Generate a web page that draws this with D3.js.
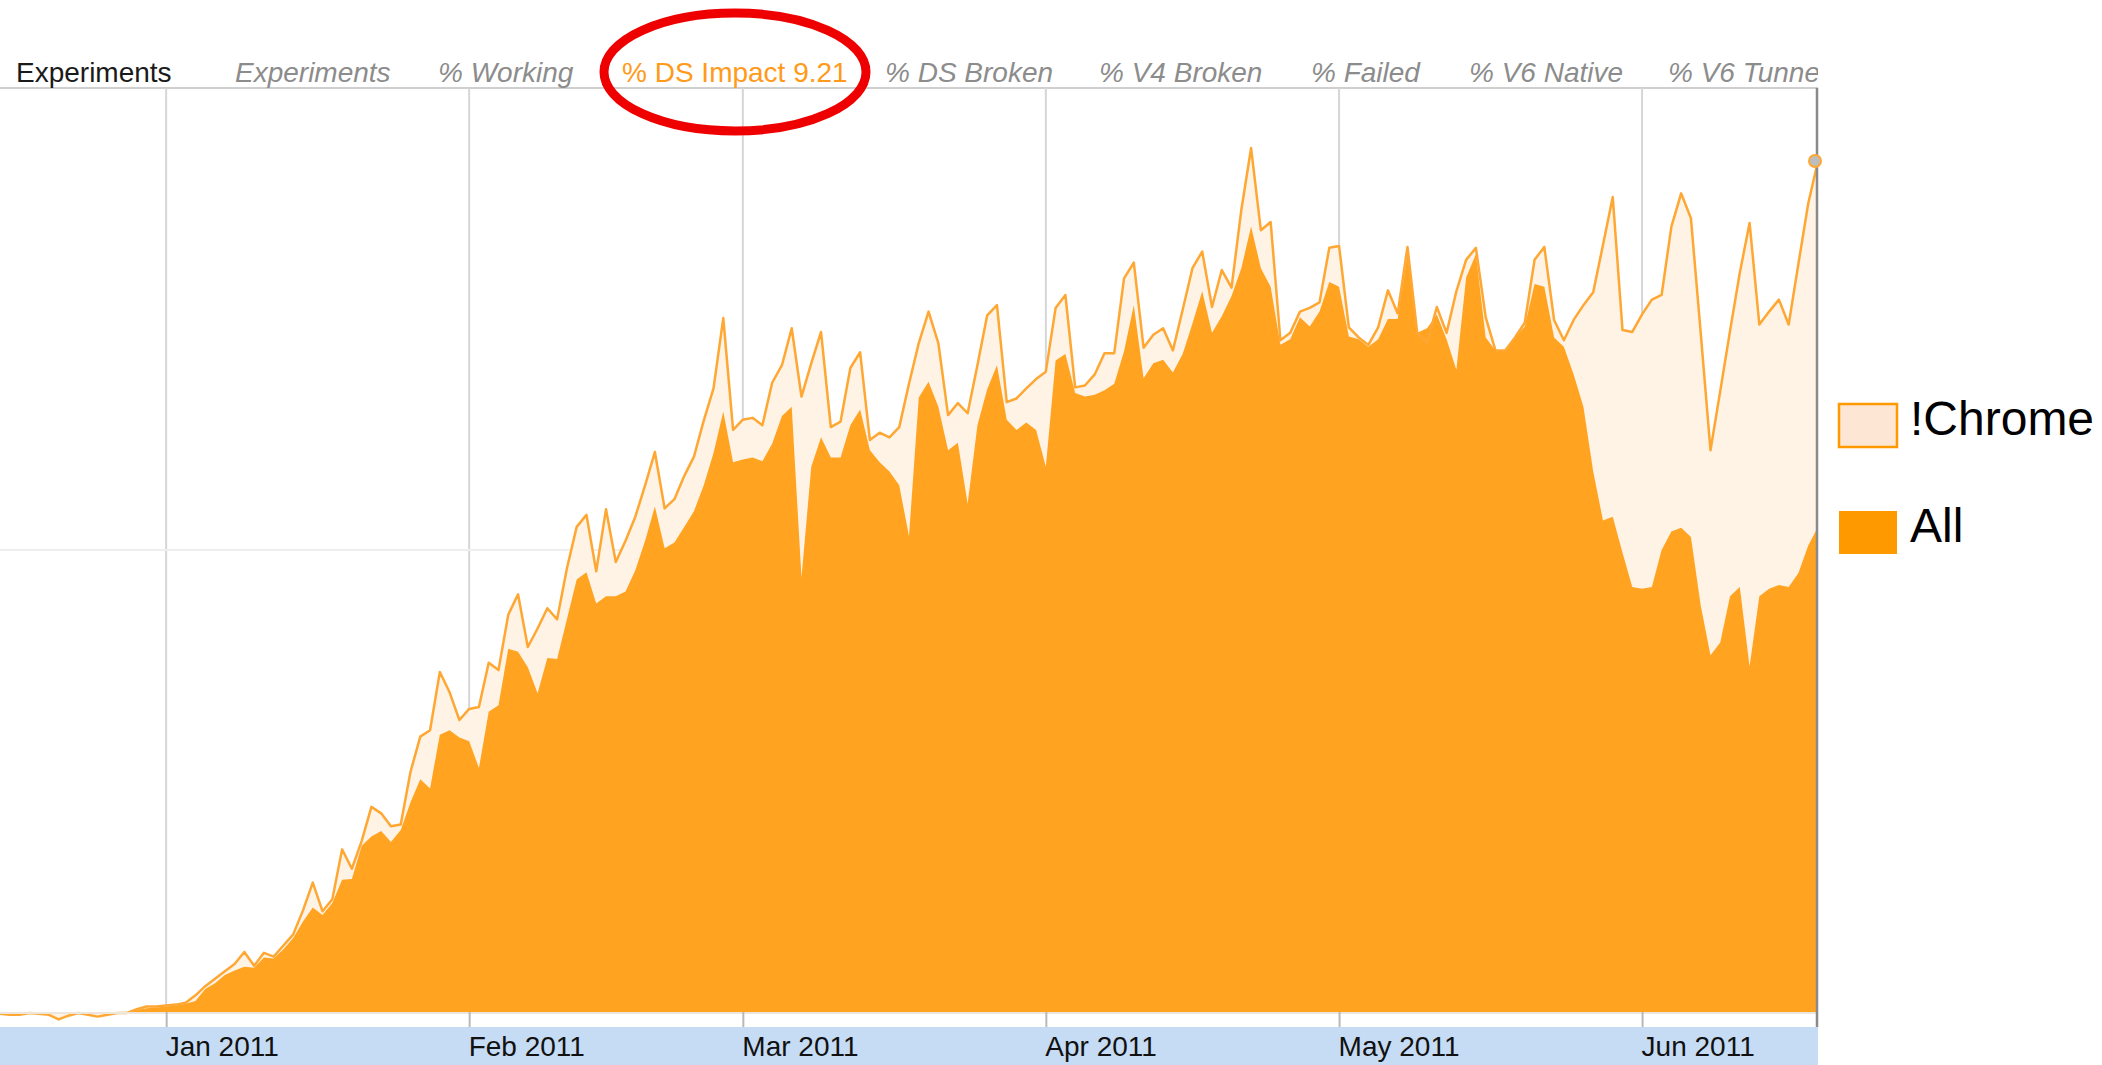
<!DOCTYPE html>
<html>
<head>
<meta charset="utf-8">
<script src="https://cdn.jsdelivr.net/npm/d3@7"></script>
<style>
	html, body { margin: 0; padding: 0; background: #fff; }
	svg { display: block; font-family: 'Liberation Sans', Arial, sans-serif; }
</style>
</head>
<body>
<svg id="chart" width="2102" height="1065"></svg>
<script>
// first day shown is Dec 15 2010, one value per day
const startDate = new Date(2010, 11, 15);

// % DS Impact, !Chrome users
const chromeValues = [
	-0.02, -0.03, -0.03, -0.01, -0.02, -0.03, -0.08, -0.04, -0.01, -0.03, -0.05, -0.03, -0.01, -0.01, 0.03, 0.06, 0.06, 0.07, 0.08, 0.1,
	0.18, 0.28, 0.36, 0.44, 0.52, 0.65, 0.5, 0.64, 0.6, 0.72, 0.84, 1.1, 1.4, 1.09, 1.22, 1.76, 1.55, 1.85, 2.22, 2.15,
	2.01, 2.03, 2.6, 2.98, 3.05, 3.68, 3.46, 3.16, 3.28, 3.3, 3.78, 3.7, 4.3, 4.52, 3.95, 4.15, 4.37, 4.25, 4.8, 5.25,
	5.38, 4.77, 5.44, 4.87, 5.1, 5.36, 5.7, 6.06, 5.45, 5.55, 5.8, 6.01, 6.4, 6.75, 7.51, 6.3, 6.41, 6.43, 6.35, 6.81,
	7.0, 7.4, 6.66, 7.02, 7.36, 6.33, 6.39, 6.97, 7.14, 6.19, 6.27, 6.22, 6.33, 6.8, 7.24, 7.58, 7.24, 6.46, 6.59, 6.48,
	7.0, 7.54, 7.65, 6.6, 6.64, 6.75, 6.85, 6.93, 7.62, 7.76, 6.76, 6.78, 6.9, 7.13, 7.13, 7.94, 8.11, 7.19, 7.33, 7.4,
	7.16, 7.6, 8.05, 8.23, 7.63, 8.03, 7.84, 8.68, 9.35, 8.46, 8.55, 7.27, 7.35, 7.58, 7.62, 7.68, 8.27, 8.29, 7.41, 7.3,
	7.22, 7.41, 7.81, 7.56, 8.28, 7.35, 7.24, 7.63, 7.35, 7.8, 8.14, 8.27, 7.52, 7.16, 7.16, 7.3, 7.46, 8.14, 8.28, 7.49,
	7.27, 7.49, 7.65, 7.79, 8.3, 8.82, 7.38, 7.36, 7.55, 7.71, 7.76, 8.5, 8.86, 8.59, 7.35, 6.08, 6.72, 7.37, 8.0, 8.54,
	7.44, 7.58, 7.71, 7.44, 8.1, 8.75, 9.21
];

// % DS Impact, all users
const allValues = [
	0, 0, 0, 0, 0, 0, 0, 0, 0, 0, 0, 0, 0, 0, 0.02, 0.04, 0.05, 0.06, 0.07, 0.09,
	0.12, 0.25, 0.31, 0.4, 0.45, 0.49, 0.48, 0.59, 0.58, 0.68, 0.8, 0.98, 1.13, 1.05, 1.18, 1.43, 1.44, 1.8, 1.9, 1.96,
	1.84, 1.97, 2.27, 2.52, 2.42, 3.0, 3.05, 2.97, 2.93, 2.64, 3.25, 3.32, 3.93, 3.9, 3.73, 3.45, 3.83, 3.82, 4.25, 4.68,
	4.76, 4.42, 4.5, 4.5, 4.55, 4.78, 5.1, 5.47, 5.02, 5.08, 5.25, 5.42, 5.7, 6.05, 6.5, 5.95, 5.98, 6.0, 5.96, 6.15,
	6.45, 6.55, 4.7, 5.9, 6.22, 6.0, 6.0, 6.35, 6.52, 6.08, 5.95, 5.85, 5.7, 5.15, 6.65, 6.82, 6.55, 6.08, 6.16, 5.5,
	6.35, 6.74, 7.0, 6.41, 6.3, 6.38, 6.3, 5.9, 7.05, 7.12, 6.7, 6.66, 6.68, 6.73, 6.8, 7.15, 7.65, 6.86, 7.02, 7.06,
	6.92, 7.12, 7.45, 7.8, 7.35, 7.53, 7.75, 8.05, 8.5, 8.05, 7.85, 7.22, 7.28, 7.52, 7.42, 7.58, 7.9, 7.85, 7.31, 7.28,
	7.2, 7.28, 7.5, 7.5, 8.2, 7.35, 7.4, 7.55, 7.28, 6.95, 7.95, 8.2, 7.3, 7.16, 7.16, 7.3, 7.42, 7.88, 7.85, 7.3,
	7.2, 6.9, 6.55, 5.85, 5.32, 5.36, 4.97, 4.6, 4.58, 4.6, 5.0, 5.2, 5.24, 5.14, 4.4, 3.86, 4.0, 4.5, 4.6, 3.74,
	4.5, 4.58, 4.62, 4.6, 4.75, 5.05, 5.25
];

const headerLabels = ['Experiments', 'Experiments', '% Working', '% DS Impact 9.21', '% DS Broken', '% V4 Broken', '% Failed', '% V6 Native', '% V6 Tunnel'];
const legendNames = ['!Chrome', 'All'];
const gridValues = [5];
const yDomain = [0, 10];

// layout
const plotLeft = 0;
const plotRight = 1818;
const plotTop = 88;
const plotBottom = 1012;
const bandTop = 1027;
const headerX = [16, 235, 438, 622, 885, 1099, 1311, 1469, 1668];

const colors = {
	all: '#ffa321',
	chromeFill: '#fef3e5',
	chromeLine: '#ffa733',
	legendChrome: '#fde6d3',
	legendAll: '#ff9900',
	grid: '#d6d6d6',
	band: '#c6dcf4'
};

const svg = d3.select('#chart');

const data = chromeValues.map((v, i) => ({
	date: d3.timeDay.offset(startDate, i),
	chrome: v,
	all: allValues[i]
}));

const x = d3
	.scaleTime()
	.domain(d3.extent(data, d => d.date))
	.range([plotLeft, plotRight]);

const y = d3
	.scaleLinear()
	.domain(yDomain)
	.range([plotBottom, plotTop]);

function drawFrame() {
	svg.append('clipPath')
		.attr('id', 'plot-clip')
		.append('rect')
		.attr('x', plotLeft)
		.attr('y', plotTop)
		.attr('width', plotRight - plotLeft)
		.attr('height', bandTop - plotTop);

	// header underline
	svg.append('line')
		.attr('x1', plotLeft)
		.attr('x2', plotRight)
		.attr('y1', plotTop)
		.attr('y2', plotTop)
		.attr('stroke', '#cfcfcf')
		.attr('stroke-width', 2);

	// month gridlines
	svg.append('g')
		.selectAll('line')
		.data(x.ticks(d3.timeMonth.every(1)))
		.join('line')
		.attr('x1', d => x(d))
		.attr('x2', d => x(d))
		.attr('y1', plotTop)
		.attr('y2', plotBottom)
		.attr('stroke', colors.grid)
		.attr('stroke-width', 2);

	svg.append('g')
		.selectAll('line')
		.data(gridValues)
		.join('line')
		.attr('x1', plotLeft)
		.attr('x2', plotRight)
		.attr('y1', d => y(d))
		.attr('y2', d => y(d))
		.attr('stroke', '#eeeeee')
		.attr('stroke-width', 2);
}

function drawSeries() {
	const g = svg.append('g').attr('clip-path', 'url(#plot-clip)');

	const chromeArea = d3
		.area()
		.x(d => x(d.date))
		.y0(y(0))
		.y1(d => y(d.chrome));

	const allArea = d3
		.area()
		.x(d => x(d.date))
		.y0(y(0))
		.y1(d => y(d.all));

	const chromeLine = d3
		.line()
		.x(d => x(d.date))
		.y(d => y(d.chrome));

	g.append('path')
		.datum(data)
		.attr('d', chromeArea)
		.attr('fill', colors.chromeFill);

	g.append('path')
		.datum(data)
		.attr('d', allArea)
		.attr('fill', colors.all);

	g.append('path')
		.datum(data)
		.attr('d', chromeLine)
		.attr('fill', 'none')
		.attr('stroke', colors.chromeLine)
		.attr('stroke-width', 2.5)
		.attr('stroke-linejoin', 'round');
}

function drawAxis() {
	svg.append('rect')
		.attr('x', plotLeft)
		.attr('y', bandTop)
		.attr('width', plotRight - plotLeft)
		.attr('height', 1065 - bandTop)
		.attr('fill', colors.band);

	svg.append('line')
		.attr('x1', plotLeft)
		.attr('x2', plotRight)
		.attr('y1', plotBottom + 1)
		.attr('y2', plotBottom + 1)
		.attr('stroke', '#ece6dc')
		.attr('stroke-width', 2);

	const axis = d3
		.axisBottom(x)
		.ticks(d3.timeMonth.every(1))
		.tickFormat(d3.timeFormat('%b %Y'))
		.tickSize(bandTop - plotBottom);

	const $axis = svg
		.append('g')
		.attr('transform', `translate(0,${plotBottom})`)
		.call(axis);

	$axis.select('.domain').remove();
	$axis.selectAll('.tick line').attr('stroke', '#b8b8b8').attr('stroke-width', 2);
	$axis
		.selectAll('.tick text')
		.attr('x', -1)
		.attr('y', 44)
		.attr('dy', 0)
		.attr('fill', '#111')
		.style('text-anchor', 'start')
		.style('font-size', '28px')
		.style('font-family', "'Liberation Sans', Arial, sans-serif");

	// hover cursor at the right edge
	svg.append('line')
		.attr('x1', plotRight - 1)
		.attr('x2', plotRight - 1)
		.attr('y1', plotTop)
		.attr('y2', bandTop)
		.attr('stroke', '#8a8a8a')
		.attr('stroke-width', 2.5);

	const last = data[data.length - 1];
	svg.append('circle')
		.attr('cx', x(last.date) - 3)
		.attr('cy', y(last.chrome))
		.attr('r', 6)
		.attr('fill', '#bdbdbd')
		.attr('stroke', colors.chromeLine)
		.attr('stroke-width', 2);
}

function drawHeader() {
	const header = svg.append('g');

	header
		.selectAll('text')
		.data(headerLabels)
		.join('text')
		.attr('x', (d, i) => headerX[i])
		.attr('y', 82)
		.attr('font-size', 28)
		.attr('font-style', (d, i) => (i === 0 || i === 3 ? 'normal' : 'italic'))
		.attr('fill', (d, i) => (i === 0 ? '#1a1a1a' : i === 3 ? '#ff9a1a' : '#8c8c8c'))
		.text(d => d);

	// white cover clips the last label at the plot edge
	svg.append('rect')
		.attr('x', plotRight)
		.attr('y', 40)
		.attr('width', 120)
		.attr('height', 46)
		.attr('fill', '#fff');

	// red highlight ring
	svg.append('ellipse')
		.attr('cx', 735)
		.attr('cy', 72)
		.attr('rx', 131)
		.attr('ry', 59)
		.attr('fill', 'none')
		.attr('stroke', '#ee0000')
		.attr('stroke-width', 9);
}

function drawLegend() {
	const legend = svg
		.append('g')
		.selectAll('g')
		.data(legendNames)
		.join('g')
		.attr('transform', (d, i) => `translate(1838,${403 + i * 107})`);

	legend
		.append('rect')
		.attr('x', 1)
		.attr('y', 1)
		.attr('width', 58)
		.attr('height', 43)
		.attr('fill', (d, i) => (i === 0 ? colors.legendChrome : colors.legendAll))
		.attr('stroke', (d, i) => (i === 0 ? colors.legendAll : 'none'))
		.attr('stroke-width', 2.5);

	legend
		.append('text')
		.attr('x', 72)
		.attr('y', 32)
		.attr('font-size', 48)
		.attr('fill', '#000')
		.text(d => d);
}

function init() {
	drawFrame();
	drawSeries();
	drawAxis();
	drawHeader();
	drawLegend();
}

init();
</script>
</body>
</html>
